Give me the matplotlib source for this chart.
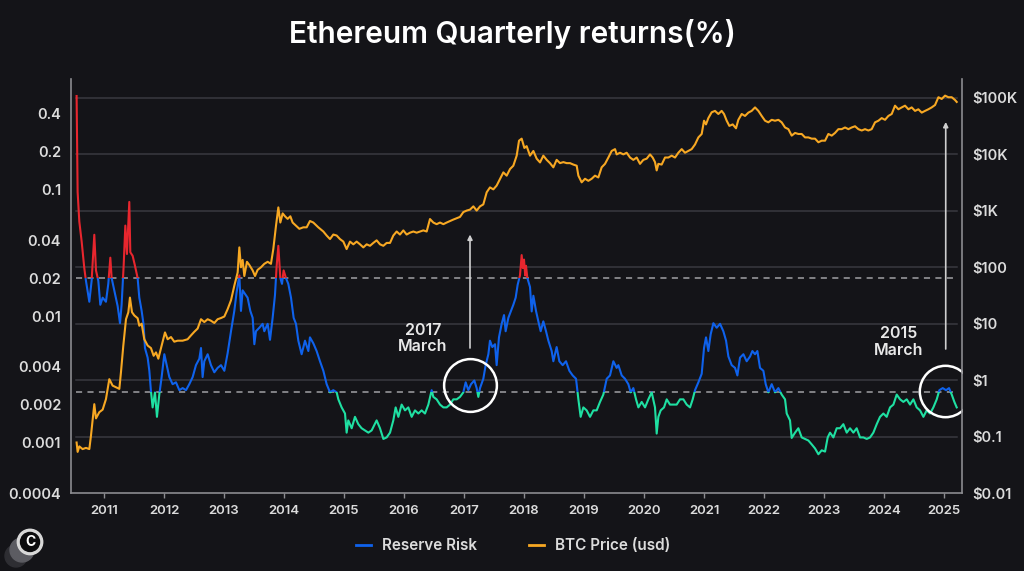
import matplotlib.pyplot as plt
import matplotlib.transforms as mtransforms
from matplotlib.lines import Line2D
from matplotlib.patches import Rectangle, Circle
from matplotlib.ticker import NullLocator

plt.rcParams['font.family'] = ['Inter', 'DejaVu Sans']

# ---- data --------------------------------------------------------------
rr_dates = [
    2010.544, 2010.561, 2010.589, 2010.628, 2010.672, 2010.700, 2010.756, 2010.794, 2010.839, 2010.867, 2010.906, 2010.939, 2010.978,
    2011.033, 2011.072, 2011.106, 2011.128, 2011.172, 2011.228, 2011.267, 2011.294, 2011.328, 2011.356, 2011.383, 2011.422, 2011.439, 2011.478,
    2011.517, 2011.561, 2011.589, 2011.628, 2011.661, 2011.683, 2011.728, 2011.756, 2011.783, 2011.811, 2011.850, 2011.883, 2011.922, 2011.961,
    2012.006, 2012.050, 2012.089, 2012.144, 2012.200, 2012.256, 2012.311, 2012.367, 2012.422, 2012.478,
    2012.533, 2012.589, 2012.617, 2012.644, 2012.672, 2012.728, 2012.783, 2012.839, 2012.894, 2012.950,
    2013.006, 2013.061, 2013.117, 2013.172, 2013.211, 2013.256, 2013.283, 2013.311, 2013.350, 2013.394, 2013.439, 2013.478, 2013.506,
    2013.533, 2013.589, 2013.644, 2013.672, 2013.728, 2013.767, 2013.811, 2013.850, 2013.878, 2013.906, 2013.939, 2013.967, 2013.994,
    2014.033, 2014.072, 2014.117, 2014.161, 2014.200, 2014.239, 2014.294, 2014.350, 2014.406, 2014.433,
    2014.489, 2014.544, 2014.600, 2014.656, 2014.711, 2014.767, 2014.822, 2014.878, 2014.906, 2014.961,
    2015.017, 2015.044, 2015.072, 2015.128, 2015.183, 2015.239, 2015.294, 2015.350, 2015.406, 2015.461,
    2015.544, 2015.600, 2015.656, 2015.711, 2015.767, 2015.822, 2015.861, 2015.906, 2015.961,
    2016.017, 2016.072, 2016.128, 2016.183, 2016.239, 2016.294, 2016.350, 2016.406, 2016.461, 2016.489,
    2016.544, 2016.600, 2016.656, 2016.711, 2016.767, 2016.822, 2016.878, 2016.933, 2016.989,
    2017.028, 2017.072, 2017.117, 2017.172, 2017.211, 2017.239, 2017.267, 2017.322, 2017.361, 2017.406, 2017.433, 2017.472, 2017.517,
    2017.544, 2017.583, 2017.628, 2017.667, 2017.694, 2017.739, 2017.783, 2017.822, 2017.861, 2017.894, 2017.933, 2017.961, 2017.980,
    2018.000, 2018.020, 2018.033, 2018.056, 2018.100, 2018.128, 2018.156, 2018.200, 2018.239, 2018.278, 2018.322, 2018.367, 2018.406,
    2018.461, 2018.489, 2018.544, 2018.589, 2018.644, 2018.700, 2018.756, 2018.811, 2018.867, 2018.906, 2018.944, 2018.989,
    2019.044, 2019.100, 2019.156, 2019.211, 2019.267, 2019.322, 2019.378, 2019.433, 2019.489, 2019.544,
    2019.572, 2019.628, 2019.683, 2019.739, 2019.778, 2019.822, 2019.867, 2019.906, 2019.961,
    2020.017, 2020.072, 2020.128, 2020.183, 2020.211, 2020.239, 2020.278, 2020.333, 2020.378, 2020.433,
    2020.489, 2020.544, 2020.600, 2020.656, 2020.711, 2020.767, 2020.811, 2020.850, 2020.906, 2020.961,
    2021.000, 2021.033, 2021.072, 2021.111, 2021.156, 2021.211, 2021.267, 2021.322, 2021.367, 2021.406, 2021.461,
    2021.517, 2021.556, 2021.600, 2021.656, 2021.711, 2021.767, 2021.806, 2021.850, 2021.889, 2021.933, 2021.989,
    2022.028, 2022.072, 2022.128, 2022.183, 2022.239, 2022.294, 2022.350, 2022.378, 2022.433, 2022.461,
    2022.517, 2022.572, 2022.628, 2022.683, 2022.739, 2022.794, 2022.850, 2022.906, 2022.961,
    2023.017, 2023.061, 2023.100, 2023.156, 2023.211, 2023.267, 2023.322, 2023.378, 2023.433, 2023.489,
    2023.544, 2023.600, 2023.656, 2023.711, 2023.767, 2023.822, 2023.878, 2023.933, 2023.989,
    2024.044, 2024.100, 2024.156, 2024.211, 2024.267, 2024.322, 2024.378, 2024.433, 2024.489,
    2024.544, 2024.600, 2024.656, 2024.711, 2024.767, 2024.822, 2024.878, 2024.922, 2024.978,
    2025.033, 2025.083, 2025.128, 2025.172, 2025.211,
]
rr_values = [
    0.55, 0.096, 0.056, 0.039, 0.024, 0.019, 0.013, 0.019, 0.044, 0.023, 0.019, 0.0123, 0.014,
    0.013, 0.018, 0.029, 0.020, 0.016, 0.012, 0.0088, 0.0123, 0.025, 0.052, 0.031, 0.080, 0.032, 0.030,
    0.025, 0.020, 0.014, 0.011, 0.0085, 0.0056, 0.0047, 0.0037, 0.00255, 0.0019, 0.0025, 0.0016, 0.0024, 0.0033,
    0.0050, 0.0040, 0.0033, 0.0029, 0.0030, 0.0026, 0.0027, 0.0026, 0.0029, 0.0033,
    0.0041, 0.0046, 0.0056, 0.0033, 0.0044, 0.0050, 0.0041, 0.0036, 0.0039, 0.0041,
    0.0037, 0.0051, 0.0076, 0.011, 0.0155, 0.021, 0.011, 0.016, 0.015, 0.014, 0.011, 0.0097, 0.0060,
    0.0076, 0.0081, 0.0087, 0.0076, 0.0087, 0.0065, 0.0097, 0.0147, 0.025, 0.036, 0.020, 0.018, 0.023,
    0.020, 0.018, 0.014, 0.0097, 0.0087, 0.0064, 0.0050, 0.0064, 0.0053, 0.0068,
    0.0061, 0.0053, 0.0044, 0.0037, 0.0029, 0.0025, 0.0026, 0.0025, 0.0022, 0.0019,
    0.0017, 0.0012, 0.0015, 0.0013, 0.0016, 0.0014, 0.0013, 0.00125, 0.0012, 0.00125,
    0.0015, 0.0013, 0.00107, 0.0011, 0.0012, 0.0015, 0.0019, 0.0016, 0.0020,
    0.0018, 0.0019, 0.0016, 0.0018, 0.0017, 0.0018, 0.0017, 0.0020, 0.0026, 0.0023,
    0.0022, 0.0020, 0.0019, 0.0019, 0.0020, 0.0022, 0.0022, 0.0023, 0.0025,
    0.0030, 0.0026, 0.0029, 0.0031, 0.0027, 0.0023, 0.0027, 0.0032, 0.0041, 0.0050, 0.0064, 0.0057, 0.0060,
    0.0041, 0.0068, 0.0087, 0.0102, 0.0076, 0.0097, 0.011, 0.0123, 0.014, 0.0177, 0.021, 0.0304, 0.024,
    0.028, 0.021, 0.025, 0.020, 0.017, 0.0109, 0.0145, 0.011, 0.0091, 0.0076, 0.0091, 0.0076, 0.0064,
    0.0053, 0.0044, 0.0057, 0.0044, 0.0041, 0.0044, 0.0037, 0.0034, 0.0032, 0.0022, 0.0016, 0.0019,
    0.0018, 0.0016, 0.0018, 0.0018, 0.0021, 0.0024, 0.0032, 0.0034, 0.0044, 0.0039,
    0.0041, 0.0034, 0.0032, 0.0029, 0.0025, 0.0027, 0.0022, 0.0019, 0.0021,
    0.0019, 0.0022, 0.0025, 0.0019, 0.00118, 0.0016, 0.0018, 0.0019, 0.0022, 0.0020,
    0.0020, 0.0020, 0.0022, 0.0022, 0.0020, 0.0019, 0.0022, 0.0026, 0.0030, 0.0035,
    0.0056, 0.0068, 0.0053, 0.0072, 0.0088, 0.0081, 0.0087, 0.0076, 0.0064, 0.0048, 0.0041,
    0.0039, 0.0034, 0.0047, 0.0050, 0.0044, 0.0048, 0.0053, 0.0050, 0.0053, 0.0039, 0.0037,
    0.0029, 0.0025, 0.0029, 0.0025, 0.0027, 0.0024, 0.0022, 0.0017, 0.0015, 0.00109,
    0.0012, 0.0013, 0.0011, 0.00107, 0.00104, 0.00097, 0.0009, 0.00081, 0.00087,
    0.00085, 0.0011, 0.0012, 0.0011, 0.0013, 0.0013, 0.0014, 0.0012, 0.0013, 0.0012,
    0.0013, 0.0011, 0.0011, 0.00107, 0.0011, 0.0012, 0.0014, 0.0016, 0.0017,
    0.0016, 0.0019, 0.0020, 0.0024, 0.0022, 0.0021, 0.0022, 0.0020, 0.0022,
    0.0019, 0.0018, 0.0016, 0.0018, 0.0017, 0.0019, 0.0022, 0.0026, 0.0027,
    0.0026, 0.0027, 0.0024, 0.0021, 0.0019,
]

btc_dates = [
    2010.544, 2010.561, 2010.589, 2010.644, 2010.700, 2010.756, 2010.783, 2010.839, 2010.867, 2010.922, 2010.978,
    2011.033, 2011.089, 2011.144, 2011.200, 2011.256, 2011.283, 2011.322, 2011.367, 2011.406, 2011.433, 2011.467,
    2011.506, 2011.561, 2011.589, 2011.628, 2011.672, 2011.728, 2011.783, 2011.828, 2011.867, 2011.906, 2011.961,
    2012.017, 2012.061, 2012.117, 2012.172, 2012.228, 2012.311, 2012.394, 2012.450, 2012.506,
    2012.561, 2012.617, 2012.672, 2012.728, 2012.783, 2012.839, 2012.894, 2012.950,
    2013.006, 2013.061, 2013.117, 2013.172, 2013.228, 2013.256, 2013.283, 2013.311, 2013.339, 2013.383, 2013.422, 2013.478,
    2013.517, 2013.561, 2013.617, 2013.672, 2013.728, 2013.783, 2013.822, 2013.867, 2013.906, 2013.939, 2013.978,
    2014.017, 2014.061, 2014.106, 2014.144, 2014.200, 2014.256, 2014.322, 2014.378, 2014.433,
    2014.489, 2014.572, 2014.656, 2014.711, 2014.767, 2014.822, 2014.878, 2014.933, 2014.989,
    2015.044, 2015.100, 2015.156, 2015.211, 2015.267, 2015.322, 2015.378, 2015.433, 2015.489,
    2015.544, 2015.600, 2015.656, 2015.711, 2015.767, 2015.822, 2015.878, 2015.933, 2015.989,
    2016.044, 2016.100, 2016.156, 2016.211, 2016.267, 2016.322, 2016.378, 2016.433, 2016.489,
    2016.544, 2016.600, 2016.656, 2016.711, 2016.767, 2016.822, 2016.878, 2016.933, 2016.989,
    2017.044, 2017.100, 2017.156, 2017.211, 2017.267, 2017.322, 2017.378, 2017.433, 2017.489,
    2017.544, 2017.600, 2017.656, 2017.711, 2017.767, 2017.822, 2017.878, 2017.917, 2017.961,
    2018.006, 2018.044, 2018.100, 2018.156, 2018.211, 2018.267, 2018.322, 2018.378, 2018.433, 2018.489,
    2018.544, 2018.600, 2018.656, 2018.711, 2018.767, 2018.822, 2018.878, 2018.906, 2018.961,
    2019.017, 2019.072, 2019.128, 2019.183, 2019.239, 2019.294, 2019.350, 2019.406, 2019.461, 2019.517,
    2019.544, 2019.600, 2019.656, 2019.711, 2019.767, 2019.822, 2019.878, 2019.933, 2019.989,
    2020.044, 2020.100, 2020.144, 2020.183, 2020.211, 2020.239, 2020.294, 2020.350, 2020.406, 2020.461,
    2020.517, 2020.572, 2020.628, 2020.683, 2020.739, 2020.794, 2020.850, 2020.906, 2020.961,
    2021.000, 2021.033, 2021.072, 2021.128, 2021.183, 2021.239, 2021.294, 2021.333, 2021.378, 2021.422,
    2021.478, 2021.533, 2021.572, 2021.628, 2021.683, 2021.739, 2021.794, 2021.850, 2021.906, 2021.961,
    2022.017, 2022.072, 2022.128, 2022.183, 2022.239, 2022.294, 2022.350, 2022.406, 2022.461,
    2022.517, 2022.572, 2022.628, 2022.683, 2022.739, 2022.794, 2022.850, 2022.906, 2022.961,
    2023.017, 2023.072, 2023.128, 2023.183, 2023.239, 2023.294, 2023.350, 2023.406, 2023.461,
    2023.517, 2023.572, 2023.628, 2023.683, 2023.739, 2023.794, 2023.850, 2023.906, 2023.961,
    2024.017, 2024.072, 2024.128, 2024.183, 2024.239, 2024.294, 2024.350, 2024.406, 2024.461,
    2024.517, 2024.572, 2024.628, 2024.683, 2024.739, 2024.794, 2024.850, 2024.906, 2024.961,
    2025.017, 2025.072, 2025.128, 2025.183, 2025.211,
]
btc_values = [
    0.0785, 0.0535, 0.067, 0.060, 0.063, 0.060, 0.103, 0.375, 0.21, 0.27, 0.30,
    0.46, 1.04, 0.80, 0.75, 0.70, 1.37, 4.05, 12, 15.9, 29, 16,
    14, 12.5, 9.2, 10, 5.3, 4.1, 3.7, 2.7, 3.1, 2.4, 4.1,
    7.0, 5.3, 5.8, 4.8, 5.0, 5.0, 5.3, 6.2, 7.2,
    8.2, 12, 10.7, 12, 11.3, 10.3, 12, 12.6,
    13.4, 18.1, 26, 47, 81, 225, 100, 135, 70, 125, 110, 88,
    70, 90, 100, 115, 125, 115, 210, 545, 1150, 620, 900,
    800, 720, 800, 620, 545, 480, 510, 510, 660,
    620, 510, 430, 365, 316, 380, 365, 316, 285,
    210, 285, 255, 285, 255, 225, 255, 240, 270,
    300, 255, 240, 270, 270, 365, 430, 380, 450,
    380, 410, 430, 410, 430, 450, 430, 715, 620,
    580, 620, 580, 620, 660, 700, 740, 780, 950,
    1010, 1050, 1200, 1010, 1200, 1300, 2130, 2600, 2400,
    2800, 3660, 4800, 4200, 5500, 6300, 9500, 17500, 19000,
    13000, 14000, 9500, 11500, 8400, 7200, 9500, 8000, 7000, 5900,
    8000, 7000, 7300, 7000, 7000, 6600, 6300, 4200, 3200,
    3700, 3400, 3700, 4200, 3900, 5900, 6800, 8800, 11500, 12400,
    10000, 10700, 10000, 10700, 8800, 8000, 8800, 6800, 8000,
    8400, 10000, 8800, 7300, 5200, 6800, 6600, 8800, 8800, 9500,
    8800, 10700, 12400, 10700, 11500, 12400, 15000, 20000, 23000,
    39500, 34000, 44000, 55800, 59000, 52000, 59000, 52000, 39500, 32000,
    34000, 29000, 41000, 52000, 48000, 55000, 59000, 68000, 59000, 48000,
    39500, 37000, 41000, 39500, 41000, 37000, 30000, 28000, 21500,
    24000, 23000, 23000, 20000, 20000, 19000, 19000, 16400, 17500,
    17500, 23000, 21500, 24000, 28000, 28000, 30000, 28000, 30000,
    31500, 28000, 26500, 28000, 26500, 28000, 37000, 39500, 44000,
    41000, 48000, 52000, 73000, 63000, 68000, 73000, 63000, 68000,
    59000, 63000, 55000, 59000, 63000, 68000, 75000, 103000, 96000,
    110000, 103000, 103000, 92000, 85000,
]
assert len(rr_dates) == len(rr_values)
assert len(btc_dates) == len(btc_values)

years = list(range(2011, 2026))
rr_ticks = [0.4, 0.2, 0.1, 0.04, 0.02, 0.01, 0.004, 0.002, 0.001, 0.0004]
rr_tick_labels = ['0.4', '0.2', '0.1', '0.04', '0.02', '0.01', '0.004', '0.002', '0.001', '0.0004']
price_ticks = [0.01, 0.1, 1, 10, 100, 1e3, 1e4, 1e5]
price_tick_labels = [r'\$0.01', r'\$0.1', r'\$1', r'\$10', r'\$100', r'\$1K', r'\$10K', r'\$100K']
high_level, low_level = 0.02, 0.0025

# ---- style --------------------------------------------------------------
BG = '#141418'
GRID = '#393940'
SPINE = '#8c8c90'
TXT = '#dcdcdc'
RED = '#e8262e'
BLUE = '#0f62ec'
GREEN = '#1fe0a2'
ORANGE = '#f7a823'

fig = plt.figure(figsize=(10.24, 5.71), dpi=100, facecolor=BG)
ax = fig.add_axes([0.0693, 0.1366, 0.8702, 0.7251])
ax.set_facecolor(BG)
ax.set_yscale('log')
ax.set_ylim(0.0004, 0.75)
ax.set_xlim(2010.45, 2025.3)

ax2 = ax.twinx()
ax2.set_yscale('log')
ax2.set_ylim(0.01, 2.17e5)

# horizontal grid at the price ticks, drawn underneath everything
grid_tf = mtransforms.blended_transform_factory(ax.transAxes, ax2.transData)
for v in price_ticks[1:]:
    ax.plot([0.006, 0.994], [v, v], color=GRID, lw=1.1, transform=grid_tf, zorder=0)

for lvl in (high_level, low_level):
    ax.axhline(lvl, xmin=0.006, xmax=0.994, color='#a0a0a4', lw=1.1,
               ls=(0, (4, 3.5)), zorder=1)

# reserve risk coloured by band
band_tf = mtransforms.blended_transform_factory(ax.transAxes, ax.transData)
bands = [(RED, high_level, 10.0), (BLUE, low_level, high_level), (GREEN, 1e-6, low_level)]
for color, lo, hi in bands:
    line, = ax.plot(rr_dates, rr_values, color=color, lw=1.5, zorder=2)
    line.set_clip_path(Rectangle((0, lo), 1, hi - lo, transform=band_tf))

ax2.plot(btc_dates, btc_values, color=ORANGE, lw=1.5, zorder=2)

# axes, ticks
ax.set_yticks(rr_ticks)
ax.set_yticklabels(rr_tick_labels)
ax.yaxis.set_minor_locator(NullLocator())
ax2.set_yticks(price_ticks)
ax2.set_yticklabels(price_tick_labels)
ax2.yaxis.set_minor_locator(NullLocator())
ax.set_xticks(years)
ax.set_xticklabels([str(y) for y in years])

ax.tick_params(axis='y', length=0, pad=7, labelsize=10.5, labelcolor=TXT)
ax2.tick_params(axis='y', length=0, pad=7, labelsize=10.5, labelcolor=TXT)
ax.tick_params(axis='x', length=3.5, width=1, color=SPINE, pad=5,
               labelsize=9.5, labelcolor=TXT)
for lab in ax.get_xticklabels() + ax.get_yticklabels() + ax2.get_yticklabels():
    lab.set_fontweight('semibold')

for a in (ax, ax2):
    a.spines['top'].set_visible(False)
ax.spines['right'].set_visible(False)
ax2.spines['left'].set_visible(False)
ax2.spines['bottom'].set_visible(False)
for s in (ax.spines['left'], ax.spines['bottom'], ax2.spines['right']):
    s.set_color(SPINE)
    s.set_linewidth(1.2)

# annotations
ann_color = '#e8e8e8'
ax.plot([2017.1], [0.00288], marker='o', ms=38, mfc='none', mec='white', mew=1.8, zorder=5)
ax.plot([2025.017], [0.00257], marker='o', ms=37, mfc='none', mec='white', mew=1.8, zorder=5)
arrow_kw = dict(arrowstyle='-|>', color='#cfcfcf', lw=1.2, mutation_scale=7,
                shrinkA=0, shrinkB=0)
ax.annotate('', xy=(2017.1, 0.0442), xytext=(2017.1, 0.0056), arrowprops=arrow_kw, zorder=5)
ax.annotate('', xy=(2025.028, 0.343), xytext=(2025.028, 0.0055), arrowprops=arrow_kw, zorder=5)
ax.text(2016.317, 0.00665, '2017\nMarch', ha='center', va='center', color=ann_color,
        fontsize=11.5, fontweight='semibold', linespacing=1.15)
ax.text(2024.25, 0.00624, '2015\nMarch', ha='center', va='center', color=ann_color,
        fontsize=11.5, fontweight='semibold', linespacing=1.15)

# title
fig.text(0.5, 0.94, 'Ethereum Quarterly returns(%)', ha='center', va='center',
         fontsize=21.5, fontweight='semibold', color='white')

# legend
handles = [Line2D([], [], color=BLUE, lw=2), Line2D([], [], color=ORANGE, lw=2)]
fig.legend(handles, ['Reserve Risk', 'BTC Price (usd)'], loc='center',
           bbox_to_anchor=(0.501, 0.044), ncol=2, frameon=False, handlelength=1.0,
           handletextpad=0.7, columnspacing=3.4, labelcolor=TXT,
           prop=dict(size=11, weight='semibold'))

# logo
lax = fig.add_axes([0, 0.0053, 0.0596, 0.1051])
lax.set_xlim(0, 61)
lax.set_ylim(0, 60)
lax.set_aspect('equal')
lax.axis('off')
lax.add_patch(Circle((16, 12), 11, color='#2e2e33'))
lax.add_patch(Circle((22, 18), 12, color='#5c5c62'))
lax.add_patch(Circle((30, 26), 12.7, color='#d8d8d8'))
lax.add_patch(Circle((30, 26), 9.5, color='#0c0c0e'))
lax.text(30, 26, 'C', ha='center', va='center', color='white', fontsize=10, fontweight='bold')

fig.savefig('out.png', dpi=100, facecolor=BG)
